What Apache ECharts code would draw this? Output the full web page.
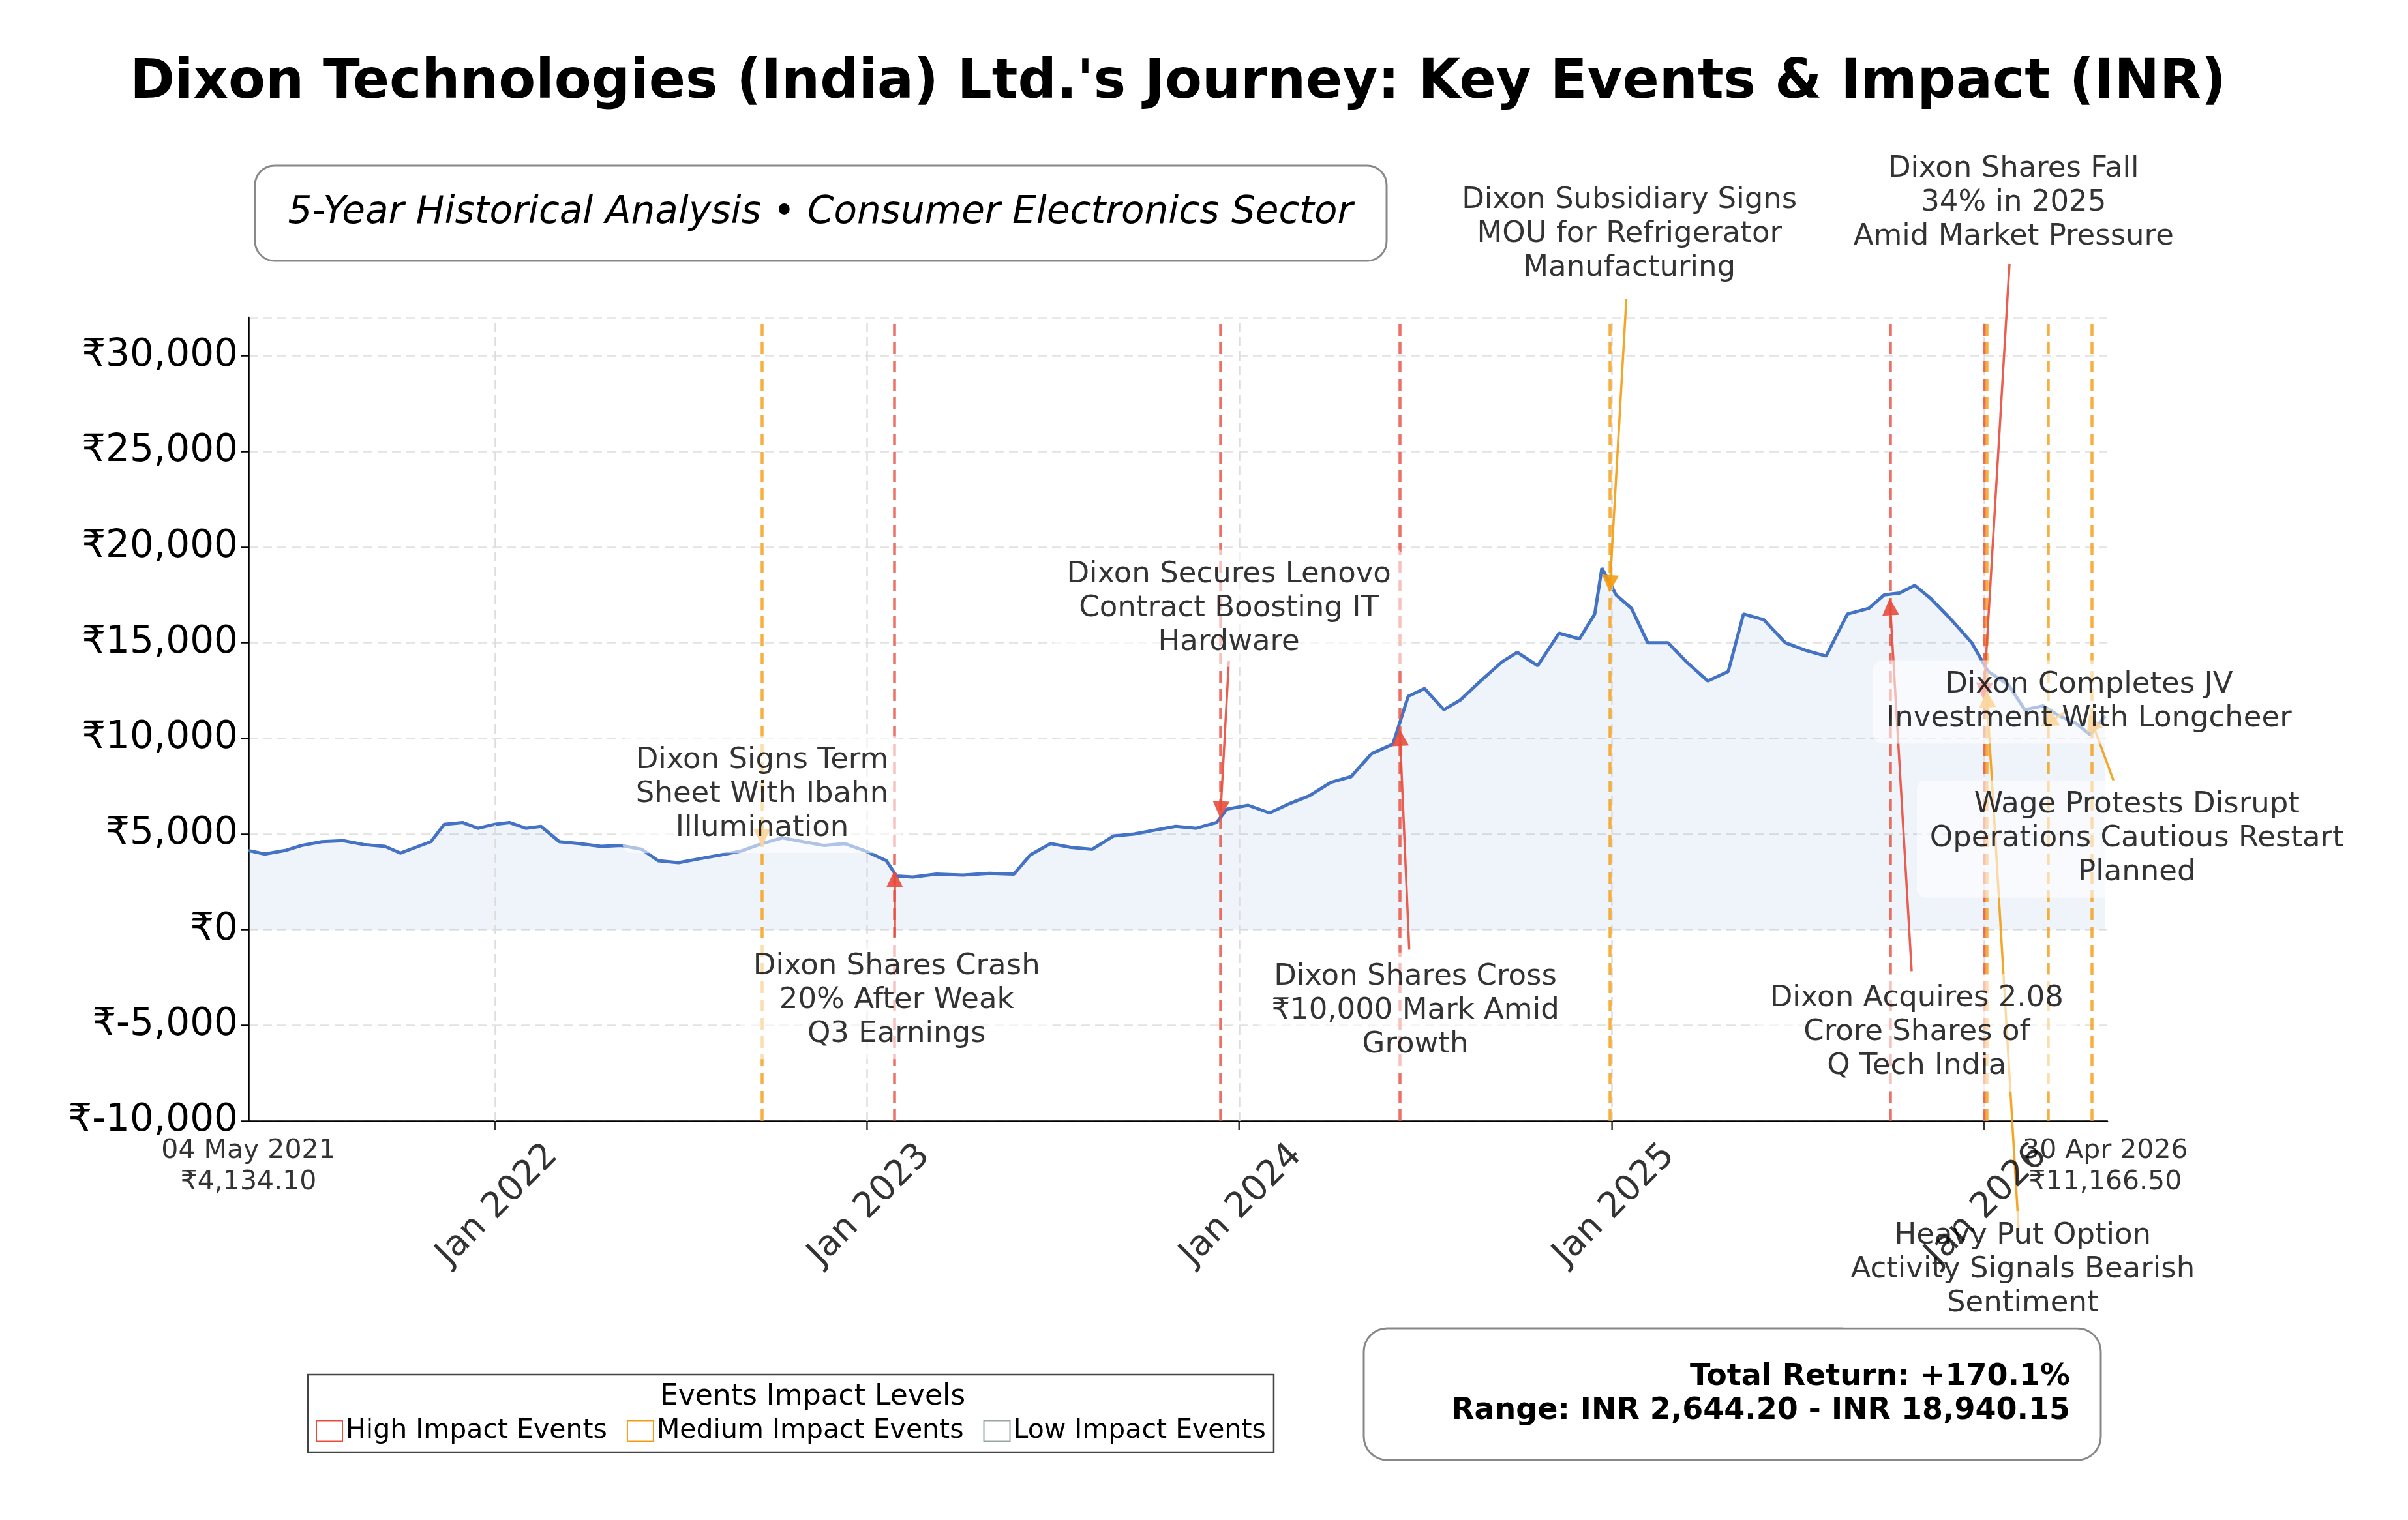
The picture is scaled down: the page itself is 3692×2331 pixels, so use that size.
<!DOCTYPE html>
<html><head><meta charset="utf-8">
<script src="https://cdn.jsdelivr.net/npm/echarts@6/dist/echarts.min.js"></script>
<style>html,body{margin:0;padding:0;background:#fff}#c{width:3692px;height:2331px}</style>
</head><body><div id="c"></div>
<script>
// ---- data ----
const priceDates = ['2021-05-04','2021-05-20','2021-06-10','2021-06-25','2021-07-15','2021-08-05','2021-08-25','2021-09-15','2021-09-30','2021-10-15','2021-10-30','2021-11-12','2021-11-30','2021-12-15','2021-12-31','2022-01-15','2022-01-31','2022-02-15','2022-03-05','2022-03-25','2022-04-15','2022-05-05','2022-05-25','2022-06-10','2022-06-30','2022-07-20','2022-08-10','2022-08-30','2022-09-20','2022-10-10','2022-10-30','2022-11-20','2022-12-10','2022-12-31','2023-01-20','2023-01-30','2023-02-15','2023-03-10','2023-04-05','2023-05-01','2023-05-25','2023-06-10','2023-06-30','2023-07-20','2023-08-10','2023-08-31','2023-09-20','2023-10-10','2023-10-31','2023-11-20','2023-12-10','2023-12-20','2024-01-10','2024-01-31','2024-02-20','2024-03-10','2024-03-31','2024-04-20','2024-05-10','2024-05-31','2024-06-15','2024-07-01','2024-07-20','2024-08-05','2024-08-25','2024-09-15','2024-09-30','2024-10-20','2024-11-10','2024-11-30','2024-12-15','2024-12-22','2025-01-05','2025-01-20','2025-02-05','2025-02-25','2025-03-15','2025-04-05','2025-04-25','2025-05-10','2025-05-30','2025-06-20','2025-07-10','2025-07-30','2025-08-20','2025-09-10','2025-09-25','2025-10-10','2025-10-25','2025-11-10','2025-11-30','2025-12-20','2026-01-05','2026-01-25','2026-02-10','2026-02-28','2026-03-15','2026-04-01','2026-04-15','2026-04-30'];
const priceValues = [4134,3950,4150,4400,4600,4650,4450,4350,4000,4300,4600,5500,5600,5300,5500,5600,5300,5400,4600,4500,4350,4400,4200,3600,3500,3700,3900,4100,4500,4800,4600,4400,4500,4100,3600,2800,2750,2900,2850,2950,2900,3900,4500,4300,4200,4900,5000,5200,5400,5300,5600,6300,6500,6100,6600,7000,7700,8000,9200,9700,12200,12600,11500,12000,13000,14000,14500,13800,15500,15200,16500,18900,17500,16800,15000,15000,14000,13000,13500,16500,16200,15000,14600,14300,16500,16800,17500,17600,18000,17300,16200,15000,13500,12800,11500,11700,11200,10800,10200,11166];
const yearTicks = ['2022-01-01','2023-01-01','2024-01-01','2025-01-01','2026-01-01'];
const impactLevels = ['High Impact Events','Medium Impact Events','Low Impact Events'];
const impactColors = {high:'#e74c3c', medium:'#f39c12', low:'#95a5a6'};
// events: date, impact, text
const eventDates  = ['2022-09-20','2023-01-28','2023-12-14','2024-06-07','2024-12-30','2025-10-01','2026-01-01','2026-01-04','2026-03-05','2026-04-17'];
const eventImpact = ['medium','high','high','high','medium','high','high','medium','medium','medium'];
const eventTexts  = ['Dixon Signs Term\nSheet With Ibahn\nIllumination','Dixon Shares Crash\n20% After Weak\nQ3 Earnings','Dixon Secures Lenovo\nContract Boosting IT\nHardware','Dixon Shares Cross\n₹10,000 Mark Amid\nGrowth','Dixon Subsidiary Signs\nMOU for Refrigerator\nManufacturing','Dixon Acquires 2.08\nCrore Shares of\nQ Tech India','Dixon Shares Fall\n34% in 2025\nAmid Market Pressure','Heavy Put Option\nActivity Signals Bearish\nSentiment','Dixon Completes JV\nInvestment With Longcheer','Wage Protests Disrupt\nOperations Cautious Restart\nPlanned'];
const eventTipValues = [4800,2650,6270,10050,18090,16880,12460,12060,10850,10850];
// annotation placement (data coords)
const textAnchors = [['2022-09-20',7075],['2023-01-30',-3700],['2023-12-22',16800],['2024-06-22',-4260],['2025-01-18',36340],['2025-10-27',-5390],['2026-01-30',38000],['2026-02-08',-17770],['2026-04-14',11900],['2026-05-31',4740]];
const arrowStarts = [['2022-09-20',5400],['2023-01-28',-400],['2023-12-22',14070],['2024-06-16',-1045],['2025-01-15',32960],['2025-10-22',-2170],['2026-01-26',34800],['2026-02-04',-15680],['2026-03-23',11400],['2026-05-08',7800]];
const startLabel = '04 May 2021\n₹4,134.10';
const endLabel = '30 Apr 2026\n₹11,166.50';

// ---- chart ----
const ts = d => new Date(d + 'T00:00:00Z').getTime();
const chart = echarts.init(document.getElementById('c'));
const font = 'DejaVu Sans';
const series = [];
series.push({
  type:'line', data: priceDates.map((d,i)=>[ts(d),priceValues[i]]), showSymbol:false,
  lineStyle:{color:'#4472c4',width:5}, itemStyle:{color:'#4472c4'},
  areaStyle:{color:'rgba(68,114,196,0.12)', origin:0}, z:3,
  markLine:{silent:true, symbol:['none','none'], label:{show:false},
    data: yearTicks.map(d=>({xAxis:ts(d), lineStyle:{color:'#dddddd',type:[14,8],width:2.5}}))
      .concat(eventDates.map((d,i)=>({xAxis:ts(d), lineStyle:{color:impactColors[eventImpact[i]],type:[18,10],width:4.5,opacity:0.8}})))}
});
series.push({
  type:'lines', coordinateSystem:'cartesian2d', clip:false, z:5,
  symbol:['none','triangle'], symbolSize:[0,26],
  data: eventDates.map((d,i)=>({coords:[[ts(arrowStarts[i][0]),arrowStarts[i][1]],[ts(d),eventTipValues[i]]],
    lineStyle:{color:impactColors[eventImpact[i]],width:3.5,opacity:0.9,curveness:0}}))
});
series.push({
  type:'scatter', clip:false, symbolSize:0, z:6,
  data: textAnchors.map((a,i)=>({value:[ts(a[0]),a[1]], label:{show:true, position:'inside', formatter:eventTexts[i],
    fontFamily:font, fontSize:45, lineHeight:52, color:'#000', align:'center', verticalAlign:'middle',
    backgroundColor:'rgba(255,255,255,0.72)', padding:[12,20], borderRadius:14}}))
});
series.push({
  type:'scatter', clip:false, symbolSize:0, z:6,
  data:[{value:[ts(priceDates[0]),-10000], label:{show:true,formatter:startLabel,position:'bottom',distance:22,fontFamily:font,fontSize:41,lineHeight:48,color:'#000'}},
        {value:[ts(priceDates[priceDates.length-1]),-10000], label:{show:true,formatter:endLabel,position:'bottom',distance:22,fontFamily:font,fontSize:41,lineHeight:48,color:'#000'}}]
});
// year tick marks + labels
series.push({
  type:'scatter', clip:false, symbol:'rect', symbolSize:[2.5,14], symbolOffset:[0,7], itemStyle:{color:'#000'}, z:6,
  data: yearTicks.map(d=>({value:[ts(d),-10000], label:{show:true, formatter:'Jan '+d.slice(0,4), position:[70,26],
    rotate:45, align:'right', verticalAlign:'top', fontFamily:font, fontSize:54, color:'#000'}}))
});
// legend dummy series
impactLevels.forEach((n,i)=>{
  const c=[impactColors.high,impactColors.medium,impactColors.low][i];
  series.push({type:'line',name:n,data:[],itemStyle:{color:'#fff',borderColor:c,borderWidth:7},lineStyle:{color:c}});
});

chart.setOption({
  animation:false, backgroundColor:'#fff',
  grid:{left:381,right:461,top:487,bottom:612},
  legend:{data:impactLevels, left:472, top:2108, itemGap:30, icon:'rect', itemWidth:40, itemHeight:32,
    textStyle:{fontFamily:font,fontSize:41,color:'#000'}, padding:[66,12,12,12], borderColor:'#444', borderWidth:2.5,
    backgroundColor:'rgba(255,255,255,0.9)'},
  graphic:[
    {type:'text',x:1806,y:128,style:{text:"Dixon Technologies (India) Ltd.'s Journey: Key Events & Impact (INR)",fontFamily:font,fontSize:83,fontWeight:'bold',fill:'#000',align:'center',verticalAlign:'middle'}},
    {type:'rect',shape:{x:391,y:254,width:1735,height:146,r:30},style:{fill:'#fff',stroke:'#888',lineWidth:3}},
    {type:'text',x:1258,y:327,style:{text:'5-Year Historical Analysis • Consumer Electronics Sector',fontFamily:font,fontSize:58,fontStyle:'italic',fill:'#000',align:'center',verticalAlign:'middle'}},
    {type:'text',x:1246,y:2143,z:10,style:{text:'Events Impact Levels',fontFamily:font,fontSize:44,fill:'#000',align:'center',verticalAlign:'middle'}},
    {type:'rect',shape:{x:2091,y:2037,width:1130,height:202,r:36},style:{fill:'#fff',stroke:'#888',lineWidth:3}},
    {type:'text',x:3174,y:2138,style:{text:'Total Return: +170.1%\nRange: INR 2,644.20 - INR 18,940.15',fontFamily:font,fontSize:46,fontWeight:'bold',lineHeight:52,fill:'#000',align:'right',verticalAlign:'middle'}}
  ],
  xAxis:{type:'time', min:ts('2021-05-04'), max:ts('2026-05-02'), splitLine:{show:false},
    axisLine:{onZero:false,lineStyle:{color:'#000',width:2.5}},
    axisTick:{show:false}, axisLabel:{show:false}},
  yAxis:{type:'value', min:-10000, max:32000, interval:5000,
    axisLine:{show:true,lineStyle:{color:'#000',width:2.5}}, axisTick:{show:true,length:12,lineStyle:{color:'#000',width:2.5}},
    axisLabel:{fontFamily:font,fontSize:58,color:'#000',margin:16,showMaxLabel:false,
      formatter:v=>'₹'+v.toLocaleString('en-US')},
    splitLine:{lineStyle:{color:'#e2e2e2',type:[14,8],width:2.5}}},
  series:series
});
</script></body></html>
